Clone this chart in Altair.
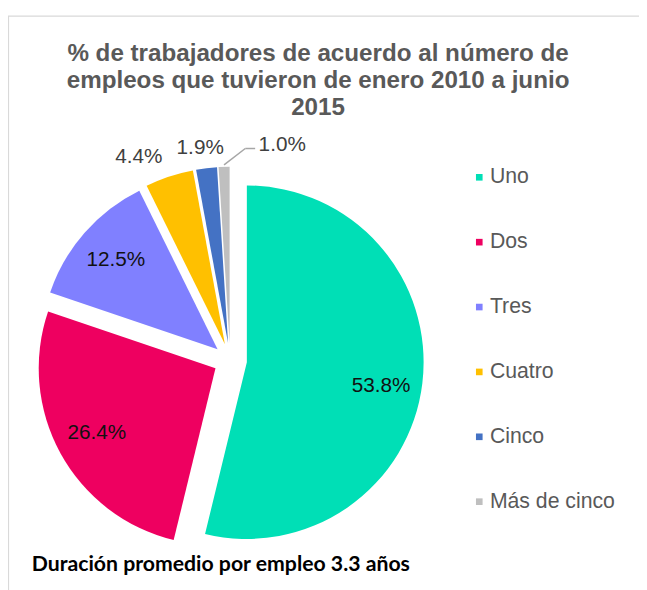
import altair as alt
import pandas as pd

# ---- data ----
CATEGORIES = ["Uno", "Dos", "Tres", "Cuatro", "Cinco", "Más de cinco"]
SHARES = [53.8, 26.4, 12.5, 4.4, 1.9, 1.0]
LABELS = ["53.8%", "26.4%", "12.5%", "4.4%", "1.9%", "1.0%"]
COLORS = ["#00DFB6", "#EE0060", "#8080FF", "#FFC000", "#4472C4", "#BFBFBF"]
TITLE_LINES = [
    "% de trabajadores de acuerdo al número de",
    "empleos que tuvieron de enero 2010 a junio",
    "2015",
]
FOOTER = "Duración promedio por empleo 3.3 años"
LEADER_CATEGORY = "Más de cinco"

# ---- layout ----
W, H = 639, 582
CX, CY = 225, 353      # pie centre inside the canvas
R = 179                # pie radius
EXPLODE = 17           # explosion distance of each slice
IN_R = 137             # inside label distance from slice centre

df = pd.DataFrame({"cat": CATEGORIES, "share": SHARES, "label": LABELS,
                   "order": list(range(len(CATEGORIES)))})

xs = alt.Scale(domain=[-CX, W - CX], range=[0, W])
ys = alt.Scale(domain=[-CY, H - CY], range=[0, H])

base = (
    alt.Chart(df)
    .transform_window(cum="sum(share)", sort=[alt.SortField("order")], frame=[None, 0])
    .transform_calculate(t0="2*PI*(datum.cum - datum.share)/100",
                         t1="2*PI*datum.cum/100")
    .transform_calculate(mid="(datum.t0 + datum.t1)/2")
    .transform_calculate(s="sin(datum.mid)", c="cos(datum.mid)")
    .transform_calculate(ox=f"{EXPLODE}*datum.s", oy=f"-{EXPLODE}*datum.c")
)

arcs = base.mark_arc(outerRadius=R).encode(
    x=alt.X("ox:Q", scale=xs, axis=None),
    y=alt.Y("oy:Q", scale=ys, axis=None),
    theta=alt.Theta("t0:Q", scale=None),
    theta2="t1:Q",
    color=alt.Color(
        "cat:N",
        scale=alt.Scale(domain=CATEGORIES, range=COLORS),
        legend=alt.Legend(
            title=None, orient="none", legendX=466.5, legendY=157,
            symbolType="square", symbolSize=45, symbolStrokeWidth=0,
            labelFontSize=21.5, labelFont="Liberation Sans", labelColor="#595959",
            rowPadding=42.7, labelOffset=0,
        ),
    ),
)

inside = (
    base.transform_filter("datum.share >= 10")
    .transform_calculate(lx=f"datum.ox + {IN_R}*datum.s",
                         ly=f"datum.oy - {IN_R}*datum.c + 8*abs(datum.s)*(datum.s > 0 ? 1 : 0)")
    .mark_text(font="Liberation Sans", fontSize=21, color="#111111",
               align="center", baseline="middle")
    .encode(x=alt.X("lx:Q", scale=xs, axis=None), y=alt.Y("ly:Q", scale=ys, axis=None),
            text="label:N")
)

outside = (
    base.transform_filter(f"datum.share < 10 && datum.cat != '{LEADER_CATEGORY}'")
    .transform_calculate(lx=f"datum.ox + ({R}+6)*datum.s + 120*datum.s + 9",
                         ly=f"datum.oy - ({R}+6)*datum.c - 14")
    .mark_text(font="Liberation Sans", fontSize=21, color="#404040",
               align="center", baseline="middle")
    .encode(x=alt.X("lx:Q", scale=xs, axis=None), y=alt.Y("ly:Q", scale=ys, axis=None),
            text="label:N")
)

lead = (
    base.transform_filter(f"datum.cat == '{LEADER_CATEGORY}'")
    .transform_calculate(sx=f"datum.ox + ({R}+2)*datum.s", sy=f"datum.oy - ({R}+2)*datum.c")
    .transform_calculate(kx="datum.sx + 21.5", ky="datum.sy - 16.5",
                         ex="datum.sx + 31.5", tx="datum.sx + 35", ty="datum.sy - 20")
)
lead1 = lead.mark_rule(color="#A6A6A6", strokeWidth=1.5).encode(
    x=alt.X("sx:Q", scale=xs, axis=None), y=alt.Y("sy:Q", scale=ys, axis=None),
    x2="kx:Q", y2="ky:Q")
lead2 = lead.mark_rule(color="#A6A6A6", strokeWidth=1.5).encode(
    x=alt.X("kx:Q", scale=xs, axis=None), y=alt.Y("ky:Q", scale=ys, axis=None),
    x2="ex:Q", y2="ky:Q")
leadlab = lead.mark_text(font="Liberation Sans", fontSize=21, color="#404040",
                         align="left", baseline="middle").encode(
    x=alt.X("tx:Q", scale=xs, axis=None), y=alt.Y("ty:Q", scale=ys, axis=None),
    text="label:N")

title = alt.Chart(pd.DataFrame({"t": ["\n".join(TITLE_LINES)]})).mark_text(
    lineBreak="\n", font="Liberation Sans", fontSize=24.5, fontWeight="bold",
    color="#595959", align="center", baseline="alphabetic", lineHeight=27.5,
).encode(x=alt.value(314), y=alt.value(50), text="t:N")

footer = alt.Chart(pd.DataFrame({"t": [FOOTER]})).mark_text(
    font="Lato", fontSize=21.5, fontWeight="bold", color="#000000",
    align="left", baseline="middle",
).encode(x=alt.value(24), y=alt.value(560), text="t:N")

border = alt.Chart(pd.DataFrame({"a": [0]})).mark_rect(
    fill=None, stroke="#D9D9D9", strokeWidth=1.2,
).encode(x=alt.value(0.5), y=alt.value(4.5), x2=alt.value(W + 60), y2=alt.value(H + 60))

chart = (
    alt.layer(border, arcs, inside, outside, lead1, lead2, leadlab, title, footer)
    .properties(width=W, height=H, padding=0, autosize=alt.AutoSizeParams(type="none"))
    .configure_view(stroke=None)
)

chart.save("out.html", embed_options={"renderer": "svg", "actions": False})
